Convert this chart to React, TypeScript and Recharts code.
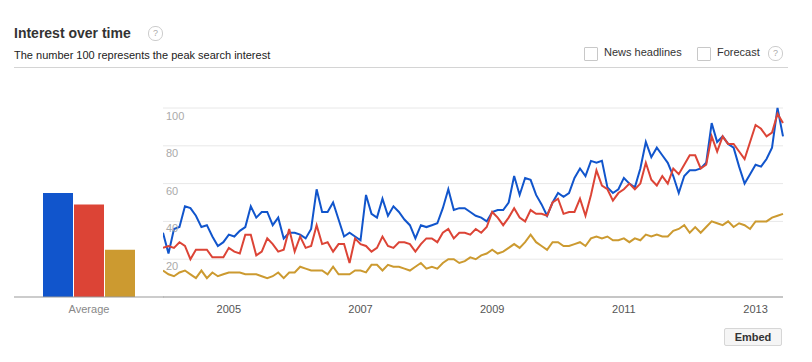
import { LineChart, Line, BarChart, Bar, XAxis, YAxis, CartesianGrid } from "recharts"

const startYear = 2004
const yearLabels = ["2005", "2007", "2009", "2011", "2013"]
const yTicks = [20, 40, 60, 80, 100]

// monthly values, Jan 2004 .. Jun 2013
const blue = [
  34, 23, 36, 37, 48, 47, 43, 37, 38, 32, 27, 29, 33, 32, 35, 37, 48, 42, 45, 45,
  38, 42, 31, 34, 34, 33, 31, 36, 57, 45, 45, 50, 41, 32, 34, 32, 30, 54, 44, 42,
  52, 43, 48, 45, 41, 38, 31, 38, 37, 38, 39, 47, 57, 46, 47, 47, 45, 43, 42, 40,
  45, 46, 46, 50, 64, 54, 63, 62, 54, 49, 43, 50, 55, 53, 55, 63, 68, 64, 72, 71,
  72, 58, 55, 57, 63, 60, 58, 68, 82, 74, 79, 75, 71, 64, 55, 64, 67, 67, 68, 71,
  92, 82, 85, 81, 79, 69, 60, 65, 70, 69, 73, 79, 100, 85,
]
const red = [
  26, 27, 26, 29, 27, 20, 25, 25, 25, 21, 21, 21, 26, 24, 23, 33, 33, 22, 24, 31,
  28, 24, 25, 36, 24, 32, 26, 27, 38, 28, 29, 24, 28, 28, 18, 31, 28, 27, 24, 26,
  32, 27, 26, 29, 29, 28, 24, 28, 31, 31, 29, 34, 36, 31, 34, 34, 33, 36, 34, 37,
  45, 42, 38, 42, 47, 42, 40, 46, 44, 44, 43, 50, 52, 44, 45, 45, 52, 43, 54, 67,
  59, 57, 51, 55, 57, 60, 57, 60, 71, 62, 59, 64, 60, 68, 65, 70, 75, 75, 68, 70,
  85, 77, 85, 81, 81, 77, 73, 82, 91, 89, 85, 87, 97, 92,
]
const gold = [
  14, 12, 11, 13, 14, 12, 10, 14, 10, 13, 11, 12, 13, 13, 13, 12, 12, 12, 11, 10,
  11, 13, 10, 13, 13, 16, 15, 14, 14, 14, 12, 16, 12, 12, 12, 14, 14, 13, 17, 17,
  14, 17, 16, 16, 15, 14, 16, 18, 15, 16, 15, 18, 20, 20, 18, 19, 21, 20, 22, 23,
  25, 23, 24, 26, 28, 26, 29, 33, 29, 27, 25, 29, 29, 27, 27, 28, 29, 27, 31, 32,
  31, 32, 30, 30, 31, 29, 31, 30, 33, 32, 33, 32, 32, 35, 36, 38, 34, 37, 34, 37,
  40, 39, 38, 40, 37, 39, 38, 36, 40, 40, 40, 42, 43, 44,
]

const averageLabel = "Average"
const averageValues = [55, 49, 25]

const BLUE = "#1155cc"
const RED = "#dc4436"
const GOLD = "#cc9a30"
const FONT = "Arial, 'Liberation Sans', sans-serif"

const rows = blue.map((v, i) => ({ i, blue: v, red: red[i], gold: gold[i] }))
const avgRows = [{ name: averageLabel, blue: averageValues[0], red: averageValues[1], gold: averageValues[2] }]
const yearTicks = yearLabels.map((y) => (Number(y) - startYear) * 12)

function Help({ left, top }: { left: number; top: number }) {
  return (
    <div
      style={{
        position: "absolute", left, top, width: 13, height: 13, borderRadius: 7,
        border: "1px solid #ccc", color: "#aaa", fontSize: 9, lineHeight: "13px",
        textAlign: "center",
      }}
    >
      ?
    </div>
  )
}

function Check({ left, top, label }: { left: number; top: number; label: string }) {
  return (
    <>
      <div style={{ position: "absolute", left, top, width: 12, height: 12, border: "1px solid #c8c8c8", borderRadius: 1 }} />
      <div style={{ position: "absolute", left: left + 20, top: top - 1, fontSize: 11, color: "#333", whiteSpace: "nowrap" }}>
        {label}
      </div>
    </>
  )
}

export default function App() {
  return (
    <div style={{ position: "absolute", left: 0, top: 0, width: 812, height: 362, background: "#fff", fontFamily: FONT, overflow: "hidden" }}>
      <div style={{ position: "absolute", left: 14, top: 25, fontSize: 14, fontWeight: "bold", color: "#333", whiteSpace: "nowrap" }}>
        Interest over time
      </div>
      <Help left={148} top={26} />
      <div style={{ position: "absolute", left: 14, top: 49, fontSize: 11, color: "#222", whiteSpace: "nowrap" }}>
        The number 100 represents the peak search interest
      </div>
      <Check left={584} top={47} label="News headlines" />
      <Check left={697} top={47} label="Forecast" />
      <Help left={768} top={46} />
      <div style={{ position: "absolute", left: 14, top: 67, width: 774, height: 1, background: "#d4d4d4" }} />

      <div style={{ position: "absolute", left: 14, top: 100 }}>
        <BarChart width={150} height={221} data={avgRows} margin={{ top: 8, right: 0, bottom: 0, left: 0 }} barGap={1}>
          <XAxis dataKey="name" height={24} tickLine={false} axisLine={{ stroke: "#999" }} tick={{ fontSize: 11, fill: "#888", fontFamily: FONT }} />
          <YAxis hide domain={[0, 100]} />
          <Bar dataKey="blue" fill={BLUE} barSize={30} isAnimationActive={false} />
          <Bar dataKey="red" fill={RED} barSize={30} isAnimationActive={false} />
          <Bar dataKey="gold" fill={GOLD} barSize={30} isAnimationActive={false} />
        </BarChart>
      </div>

      <div style={{ position: "absolute", left: 163, top: 100 }}>
        <LineChart width={622} height={221} data={rows} margin={{ top: 8, right: 2, bottom: 0, left: 0 }}>
          <CartesianGrid vertical={false} stroke="#e8e8e8" />
          <XAxis
            dataKey="i"
            type="number"
            domain={[0, rows.length - 1]}
            ticks={yearTicks}
            tickFormatter={(v) => String(startYear + v / 12)}
            height={24}
            tickLine={false}
            axisLine={{ stroke: "#999" }}
            tick={{ fontSize: 11, fill: "#555", fontFamily: FONT }}
          />
          <YAxis
            width={1}
            domain={[0, 100]}
            ticks={yTicks}
            mirror
            tickSize={0}
            tickMargin={3}
            axisLine={false}
            tickLine={false}
            tick={(p: any) => (
              <text key={p.index} x={p.x} y={p.y + 11} fill="#aaa" fontSize={11} fontFamily={FONT} textAnchor="start">
                {p.payload.value}
              </text>
            )}
          />
          <Line dataKey="blue" stroke={BLUE} strokeWidth={2} dot={false} isAnimationActive={false} />
          <Line dataKey="red" stroke={RED} strokeWidth={2} dot={false} isAnimationActive={false} />
          <Line dataKey="gold" stroke={GOLD} strokeWidth={2} dot={false} isAnimationActive={false} />
        </LineChart>
      </div>

      <div
        style={{
          position: "absolute", left: 724, top: 328, width: 56, height: 16, border: "1px solid #d6d6d6",
          borderRadius: 2, background: "#f5f5f5", fontSize: 11, fontWeight: "bold", color: "#333",
          textAlign: "center", lineHeight: "16px",
        }}
      >
        Embed
      </div>
    </div>
  )
}
